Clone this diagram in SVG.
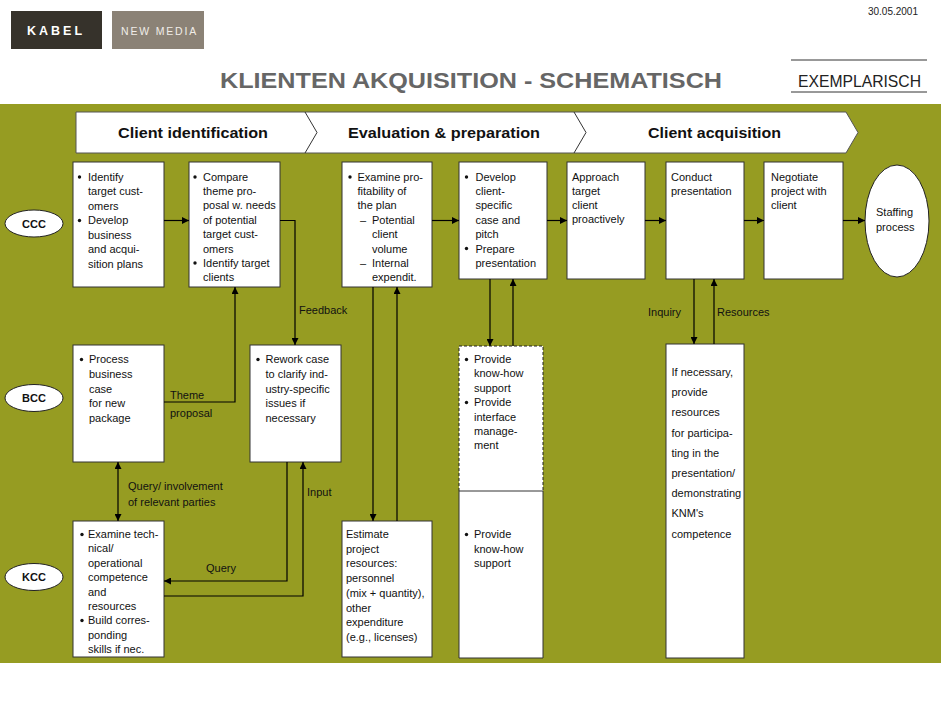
<svg xmlns="http://www.w3.org/2000/svg" width="941" height="706" viewBox="0 0 941 706">
<style>
.t{font-family:"Liberation Sans",Arial,sans-serif;font-size:11px;fill:#111}
.lb{font-family:"Liberation Sans",Arial,sans-serif;font-size:11px;fill:#111}
.ell{fill:#fff;stroke:#222;stroke-width:1}
.el{font-family:"Liberation Sans",Arial,sans-serif;font-size:11px;font-weight:bold;fill:#111;text-anchor:middle}
.box{fill:#fff;stroke:#333;stroke-width:1}
.con{fill:none;stroke:#000;stroke-width:1.2}
.ch{font-family:"Liberation Sans",Arial,sans-serif;font-size:15px;font-weight:bold;fill:#111;text-anchor:middle}
</style>
<defs>
<marker id="ah" viewBox="0 0 10 10" refX="10" refY="5" markerWidth="7" markerHeight="7" markerUnits="userSpaceOnUse" orient="auto-start-reverse"><path d="M0,0 L10,5 L0,10 z" fill="#000"/></marker>
</defs>
<rect width="941" height="706" fill="#fff"/>
<g id="header">
<rect x="11" y="11" width="91" height="38" fill="#36322b"/>
<text x="56" y="35" text-anchor="middle" font-family="'Liberation Sans',Arial,sans-serif" font-size="12.5" font-weight="bold" letter-spacing="3" fill="#fff">KABEL</text>
<rect x="112" y="11" width="92" height="38" fill="#8b8276"/>
<text x="159.5" y="34.5" text-anchor="middle" font-family="'Liberation Sans',Arial,sans-serif" font-size="10.5" letter-spacing="1.8" fill="#f0ede8">NEW MEDIA</text>
<text x="918" y="15" text-anchor="end" font-family="'Liberation Sans',Arial,sans-serif" font-size="10" fill="#222">30.05.2001</text>
<text x="220" y="88" textLength="502" lengthAdjust="spacingAndGlyphs" font-family="'Liberation Sans',Arial,sans-serif" font-size="22" font-weight="bold" fill="#666">KLIENTEN AKQUISITION - SCHEMATISCH</text>
<line x1="791" y1="60" x2="927" y2="60" stroke="#333" stroke-width="1"/>
<line x1="791" y1="92" x2="927" y2="92" stroke="#333" stroke-width="1"/>
<text x="798" y="87" textLength="123" lengthAdjust="spacingAndGlyphs" font-family="'Liberation Sans',Arial,sans-serif" font-size="17" fill="#222">EXEMPLARISCH</text>
</g>
<rect x="0" y="104" width="941" height="559" fill="#969c22"/>
<g id="phases">
<path d="M76,112 H846 L858,132.5 L846,153 H76 Z" fill="#fff" stroke="#555" stroke-width="1"/>
<path d="M305,112 L317,132.5 L305,153" fill="none" stroke="#333" stroke-width="1"/>
<path d="M574,112 L586,132.5 L574,153" fill="none" stroke="#333" stroke-width="1"/>
<text class="ch" x="193" y="137.5" textLength="150" lengthAdjust="spacingAndGlyphs">Client identification</text>
<text class="ch" x="444" y="137.5" textLength="192" lengthAdjust="spacingAndGlyphs">Evaluation &amp; preparation</text>
<text class="ch" x="714.5" y="137.5" textLength="133" lengthAdjust="spacingAndGlyphs">Client acquisition</text>
</g>
<g id="ccc"><ellipse class="ell" cx="34" cy="223.5" rx="29" ry="13.5"/><text class="el" x="34" y="227.5">CCC</text></g>
<g id="bcc"><ellipse class="ell" cx="34" cy="398" rx="29" ry="13.5"/><text class="el" x="34" y="402">BCC</text></g>
<g id="kcc"><ellipse class="ell" cx="34" cy="577" rx="29" ry="13.5"/><text class="el" x="34" y="581">KCC</text></g>
<g id="identify">
<rect class="box" x="73" y="162" width="91" height="125"/>
<circle cx="79.5" cy="177" r="1.7" fill="#111"/><circle cx="79.5" cy="220.5" r="1.7" fill="#111"/>
<text class="t"><tspan x="88" y="180.5">Identify</tspan><tspan x="88" y="195">target cust-</tspan><tspan x="88" y="209.5">omers</tspan><tspan x="88" y="224">Develop</tspan><tspan x="88" y="238.5">business</tspan><tspan x="88" y="253">and acqui-</tspan><tspan x="88" y="267.5">sition plans</tspan></text>
</g>
<g id="compare">
<rect class="box" x="189" y="162" width="91" height="125"/>
<circle cx="195" cy="177" r="1.7" fill="#111"/><circle cx="195" cy="263" r="1.7" fill="#111"/>
<text class="t"><tspan x="203" y="180.5">Compare</tspan><tspan x="203" y="194.9">theme pro-</tspan><tspan x="203" y="209.3">posal w. needs</tspan><tspan x="203" y="223.7">of potential</tspan><tspan x="203" y="238.1">target cust-</tspan><tspan x="203" y="252.5">omers</tspan><tspan x="203" y="266.9">Identify target</tspan><tspan x="203" y="281.3">clients</tspan></text>
</g>
<g id="process">
<rect class="box" x="73" y="345" width="91" height="117"/>
<circle cx="81.5" cy="359.5" r="1.7" fill="#111"/>
<text class="t"><tspan x="89" y="363">Process</tspan><tspan x="89" y="377.8">business</tspan><tspan x="89" y="392.5">case</tspan><tspan x="89" y="407.3">for new</tspan><tspan x="89" y="422">package</tspan></text>
</g>
<g id="rework">
<rect class="box" x="250" y="345" width="91" height="117"/>
<circle cx="258" cy="359.5" r="1.7" fill="#111"/>
<text class="t"><tspan x="265.5" y="363">Rework case</tspan><tspan x="265.5" y="377.8">to clarify ind-</tspan><tspan x="265.5" y="392.5">ustry-specific</tspan><tspan x="265.5" y="407.3">issues if</tspan><tspan x="265.5" y="422">necessary</tspan></text>
</g>
<g id="examinetech">
<rect class="box" x="73" y="521" width="91" height="136"/>
<circle cx="82" cy="534.5" r="1.7" fill="#111"/><circle cx="82" cy="620.5" r="1.7" fill="#111"/>
<text class="t"><tspan x="88" y="538">Examine tech-</tspan><tspan x="88" y="552.4">nical/</tspan><tspan x="88" y="566.8">operational</tspan><tspan x="88" y="581.2">competence</tspan><tspan x="88" y="595.6">and</tspan><tspan x="88" y="610">resources</tspan><tspan x="88" y="624.4">Build corres-</tspan><tspan x="88" y="638.8">ponding</tspan><tspan x="88" y="653.2">skills if nec.</tspan></text>
</g>
<g id="profitability">
<rect class="box" x="342" y="162" width="90" height="125"/>
<circle cx="350" cy="177" r="1.7" fill="#111"/>
<text class="t"><tspan x="357.5" y="180.5">Examine pro-</tspan><tspan x="357.5" y="194.9">fitability of</tspan><tspan x="357.5" y="209.3">the plan</tspan><tspan x="360" y="223.7">–</tspan><tspan x="372" y="223.7">Potential</tspan><tspan x="372" y="238.1">client</tspan><tspan x="372" y="252.5">volume</tspan><tspan x="360" y="266.9">–</tspan><tspan x="372" y="266.9">Internal</tspan><tspan x="372" y="281.3">expendit.</tspan></text>
</g>
<g id="estimate">
<rect class="box" x="342" y="521" width="90" height="136"/>
<text class="t"><tspan x="346" y="538">Estimate</tspan><tspan x="346" y="552.7">project</tspan><tspan x="346" y="567.4">resources:</tspan><tspan x="346" y="582.1">personnel</tspan><tspan x="346" y="596.8">(mix + quantity),</tspan><tspan x="346" y="611.5">other</tspan><tspan x="346" y="626.2">expenditure</tspan><tspan x="346" y="640.9">(e.g., licenses)</tspan></text>
</g>
<g id="develop">
<rect class="box" x="459" y="162" width="88" height="117"/>
<circle cx="466.5" cy="177" r="1.7" fill="#111"/><circle cx="466.5" cy="248.5" r="1.7" fill="#111"/>
<text class="t"><tspan x="475.5" y="180.5">Develop</tspan><tspan x="475.5" y="194.9">client-</tspan><tspan x="475.5" y="209.3">specific</tspan><tspan x="475.5" y="223.7">case and</tspan><tspan x="475.5" y="238.1">pitch</tspan><tspan x="475.5" y="252.5">Prepare</tspan><tspan x="475.5" y="266.9">presentation</tspan></text>
</g>
<g id="support">
<rect x="459" y="346" width="84" height="312" fill="#fff"/>
<path d="M459,491 V346 H543 V491" fill="none" stroke="#222" stroke-width="1" stroke-dasharray="3,2"/>
<path d="M459,491 H543 V658 H459 Z" fill="none" stroke="#333" stroke-width="1"/>
<circle cx="466.5" cy="359.5" r="1.7" fill="#111"/><circle cx="466.5" cy="402.5" r="1.7" fill="#111"/><circle cx="466.5" cy="534.5" r="1.7" fill="#111"/>
<text class="t"><tspan x="474" y="363">Provide</tspan><tspan x="474" y="377.4">know-how</tspan><tspan x="474" y="391.8">support</tspan><tspan x="474" y="406.2">Provide</tspan><tspan x="474" y="420.6">interface</tspan><tspan x="474" y="435">manage-</tspan><tspan x="474" y="449.4">ment</tspan></text>
<text class="t"><tspan x="474" y="538">Provide</tspan><tspan x="474" y="552.5">know-how</tspan><tspan x="474" y="567">support</tspan></text>
</g>
<g id="approach">
<rect class="box" x="567" y="162" width="78" height="117"/>
<text class="t"><tspan x="572" y="180.5">Approach</tspan><tspan x="572" y="194.7">target</tspan><tspan x="572" y="208.9">client</tspan><tspan x="572" y="223.1">proactively</tspan></text>
</g>
<g id="conduct">
<rect class="box" x="666" y="162" width="78" height="117"/>
<text class="t"><tspan x="671" y="180.5">Conduct</tspan><tspan x="671" y="194.7">presentation</tspan></text>
</g>
<g id="resources">
<rect class="box" x="666" y="344" width="78" height="314"/>
<text class="t"><tspan x="671.5" y="376">If necessary,</tspan><tspan x="671.5" y="396.2">provide</tspan><tspan x="671.5" y="416.4">resources</tspan><tspan x="671.5" y="436.6">for participa-</tspan><tspan x="671.5" y="456.8">ting in the</tspan><tspan x="671.5" y="477">presentation/</tspan><tspan x="671.5" y="497.2">demonstrating</tspan><tspan x="671.5" y="517.4">KNM's</tspan><tspan x="671.5" y="537.6">competence</tspan></text>
</g>
<g id="negotiate">
<rect class="box" x="764" y="162" width="79" height="117"/>
<text class="t"><tspan x="771" y="180.5">Negotiate</tspan><tspan x="771" y="194.7">project with</tspan><tspan x="771" y="208.9">client</tspan></text>
</g>
<g id="staffing">
<ellipse class="ell" cx="897" cy="221" rx="32" ry="56"/>
<text class="t"><tspan x="876" y="215.5">Staffing</tspan><tspan x="876" y="230.5">process</tspan></text>
</g>
<g id="connectors">
<path class="con" d="M164,220.5 H189" marker-end="url(#ah)"/>
<path class="con" d="M432,220.5 H459" marker-end="url(#ah)"/>
<path class="con" d="M547,220.5 H567" marker-end="url(#ah)"/>
<path class="con" d="M645,220.5 H666" marker-end="url(#ah)"/>
<path class="con" d="M744,220.5 H764" marker-end="url(#ah)"/>
<path class="con" d="M843,220.5 H865" marker-end="url(#ah)"/>
<path class="con" d="M280,220.5 H295 V345" marker-end="url(#ah)"/>
<path class="con" d="M164,402 H235 V287" marker-end="url(#ah)"/>
<path class="con" d="M118,462 V521" marker-start="url(#ah)" marker-end="url(#ah)"/>
<path class="con" d="M287,462 V581 H164" marker-end="url(#ah)"/>
<path class="con" d="M164,596 H303 V462" marker-end="url(#ah)"/>
<path class="con" d="M373,287 V521" marker-end="url(#ah)"/>
<path class="con" d="M397,521 V287" marker-end="url(#ah)"/>
<path class="con" d="M490,279 V346" marker-end="url(#ah)"/>
<path class="con" d="M513,346 V279" marker-end="url(#ah)"/>
<path class="con" d="M694,279 V344" marker-end="url(#ah)"/>
<path class="con" d="M714,344 V279" marker-end="url(#ah)"/>
<text class="lb" x="299" y="314">Feedback</text>
<text class="lb" x="170" y="399">Theme</text>
<text class="lb" x="170" y="416.5">proposal</text>
<text class="lb" x="128" y="490">Query/ involvement</text>
<text class="lb" x="128" y="505.5">of relevant parties</text>
<text class="lb" x="307" y="496">Input</text>
<text class="lb" x="206" y="571.5">Query</text>
<text class="lb" x="648" y="315.5">Inquiry</text>
<text class="lb" x="717" y="315.5">Resources</text>
</g>
</svg>
